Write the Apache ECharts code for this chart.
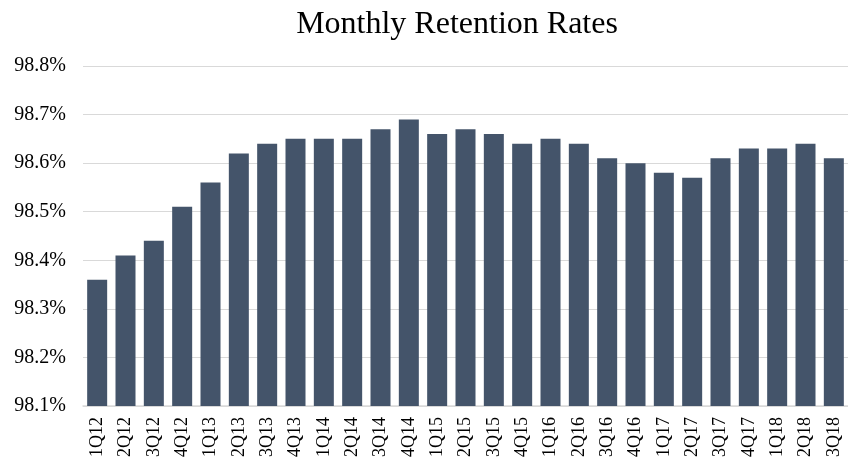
<!DOCTYPE html>
<html lang="en">
<head>
    <meta charset="UTF-8">
    <title>Monthly Retention Rates</title>
    <style>
        html, body { margin: 0; padding: 0; background: #fff; }
        #chart { width: 848px; height: 466px; }
    </style>
</head>
<body>
    <div id="chart"></div>
    <script src="https://cdn.jsdelivr.net/npm/echarts@6/dist/echarts.min.js"></script>
    <script>
        var quarters = ["1Q12", "2Q12", "3Q12", "4Q12", "1Q13", "2Q13", "3Q13", "4Q13", "1Q14", "2Q14",
            "3Q14", "4Q14", "1Q15", "2Q15", "3Q15", "4Q15", "1Q16", "2Q16", "3Q16", "4Q16",
            "1Q17", "2Q17", "3Q17", "4Q17", "1Q18", "2Q18", "3Q18"];
        var retention = [98.36, 98.41, 98.44, 98.51, 98.56, 98.62, 98.64, 98.65, 98.65, 98.65,
            98.67, 98.69, 98.66, 98.67, 98.66, 98.64, 98.65, 98.64, 98.61, 98.60,
            98.58, 98.57, 98.61, 98.63, 98.63, 98.64, 98.61];

        var chart = echarts.init(document.getElementById("chart"));
        var serif = "'Liberation Serif', 'Times New Roman', serif";
        chart.setOption({
            animation: false,
            title: {
                text: "Monthly Retention Rates",
                left: 452,
                textAlign: "center",
                top: 4,
                textStyle: { fontFamily: serif, fontSize: 32, fontWeight: "normal", color: "#000" }
            },
            grid: { left: 83, top: 66, width: 774, height: 340 },
            xAxis: {
                type: "category",
                data: quarters,
                axisLine: { lineStyle: { color: "#d9d9d9", width: 1.5 } },
                axisTick: { show: false },
                axisLabel: {
                    interval: 0,
                    rotate: 90,
                    margin: 11,
                    fontFamily: serif,
                    fontSize: 18,
                    color: "#000"
                }
            },
            yAxis: {
                type: "value",
                min: 98.1,
                max: 98.8,
                interval: 0.1,
                axisLine: { show: false },
                axisTick: { show: false },
                splitLine: { lineStyle: { color: "#d9d9d9", width: 1.2 } },
                axisLabel: {
                    margin: 17,
                    fontFamily: serif,
                    fontSize: 20,
                    color: "#000",
                    formatter: function (v) { return v.toFixed(1) + "%"; }
                }
            },
            series: [{
                type: "bar",
                data: retention,
                barWidth: 20,
                itemStyle: { color: "#44546a" }
            }]
        });
    </script>
</body>
</html>
